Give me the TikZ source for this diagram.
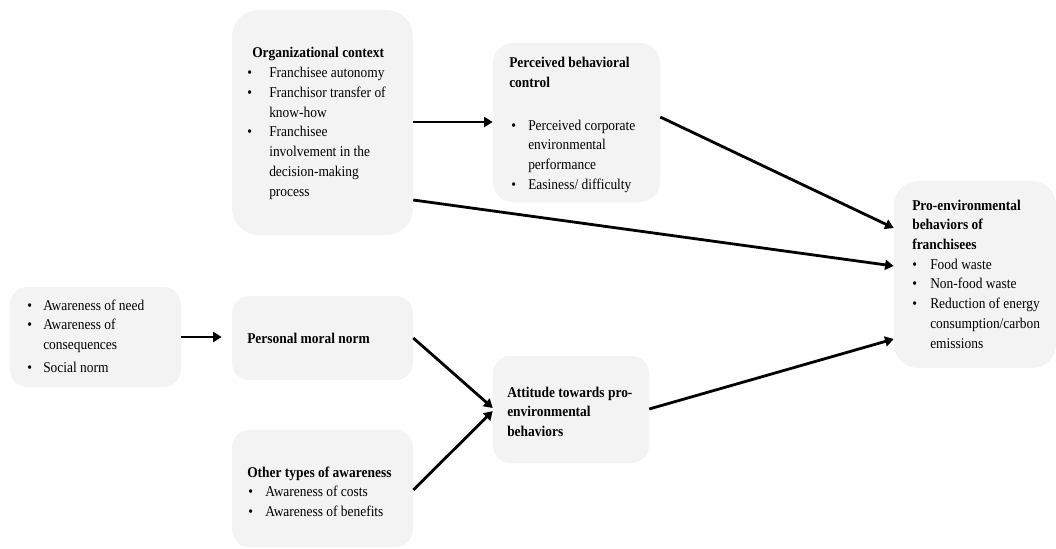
\documentclass[tikz,border=0pt]{standalone}
\usepackage{fontspec}
\setmainfont{Liberation Serif}[FakeStretch=0.9]
\usetikzlibrary{arrows.meta,fit}
\definecolor{boxgray}{HTML}{F3F3F3}
\newcommand\itm[2]{\makebox[#1][l]{\textbullet}#2}
\begin{document}
\begin{tikzpicture}[x=0.75pt,y=-0.75pt,
 box/.style={fill=boxgray, draw=none, rounded corners=13pt, inner sep=0pt},
 txt/.style={anchor=base west, inner sep=0pt, font=\fontsize{11.2pt}{14.8pt}\selectfont},
 arr/.style={line width=2.1pt, -{Triangle[length=6.5pt,width=7.5pt]}}]
\useasboundingbox (0,0) rectangle (1056,549);
% boxes
\node[box, rounded corners=20pt, fit={(232,10)(413,235)}] (oc) {};
\node[box, rounded corners=15pt, fit={(493,43)(660,202)}] (pbc) {};
\node[box, rounded corners=18pt, fit={(894,181)(1056,368)}] (peb) {};
\node[box, fit={(10,287)(181,387)}] (aw) {};
\node[box, fit={(232,296)(413,380)}] (pmn) {};
\node[box, fit={(232,430)(413,547)}] (ota) {};
\node[box, fit={(493,356)(649,463)}] (att) {};
% texts
\node[txt] (oct) at (247,58) {\begin{tabular}[t]{@{}l@{}}
\hspace*{3.75pt}\textbf{Organizational context}\\
\itm{16.5pt}{Franchisee autonomy}\\
\itm{16.5pt}{Franchisor transfer of}\\
\hspace*{16.5pt}know-how\\
\itm{16.5pt}{Franchisee}\\
\hspace*{16.5pt}involvement in the\\
\hspace*{16.5pt}decision-making\\
\hspace*{16.5pt}process
\end{tabular}};
\node[txt] (pbct) at (509,68) {\begin{tabular}[t]{@{}l@{}}
\textbf{Perceived behavioral}\\
\textbf{control}\\[17pt]
\hspace*{1.5pt}\itm{12.75pt}{Perceived corporate}\\
\hspace*{14.25pt}environmental\\
\hspace*{14.25pt}performance\\
\hspace*{1.5pt}\itm{12.75pt}{Easiness/ difficulty}
\end{tabular}};
\node[txt] (pebt) at (912,210) {\begin{tabular}[t]{@{}l@{}}
\textbf{Pro-environmental}\\
\textbf{behaviors of}\\
\textbf{franchisees}\\
\itm{13.5pt}{Food waste}\\
\itm{13.5pt}{Non-food waste}\\
\itm{13.5pt}{Reduction of energy}\\
\hspace*{13.5pt}consumption/carbon\\
\hspace*{13.5pt}emissions
\end{tabular}};
\node[txt] (awt) at (27,310) {\begin{tabular}[t]{@{}l@{}}
\itm{12pt}{Awareness of need}\\
\itm{12pt}{Awareness of}\\
\hspace*{12pt}consequences\\[2.5pt]
\itm{12pt}{Social norm}
\end{tabular}};
\node[txt] (pmnt) at (247,343) {\textbf{Personal moral norm}};
\node[txt] (otat) at (247,477) {\begin{tabular}[t]{@{}l@{}}
\textbf{Other types of awareness}\\
\hspace*{0.75pt}\itm{12.75pt}{Awareness of costs}\\
\hspace*{0.75pt}\itm{12.75pt}{Awareness of benefits}
\end{tabular}};
\node[txt] (attt) at (507,397) {\begin{tabular}[t]{@{}l@{}}
\textbf{Attitude towards pro-}\\
\textbf{environmental}\\
\textbf{behaviors}
\end{tabular}};
% connectors
\draw[arr] (oc.east |- 0,122) -- (pbc.west |- 0,122);
\draw[arr] (oc.east |- 0,200) -- (peb.west |- 0,266);
\draw[arr] (pbc.east |- 0,117) -- (peb.west |- 0,228);
\draw[arr, shorten >=7.5pt] (aw.east |- 0,337) -- (pmn.west |- 0,337);
\draw[arr] (pmn.east |- 0,338) -- (att.west |- 0,408);
\draw[arr] (ota.east |- 0,490) -- (att.west |- 0,411);
\draw[arr] (att.east |- 0,409) -- (peb.west |- 0,339);
\end{tikzpicture}
\end{document}
